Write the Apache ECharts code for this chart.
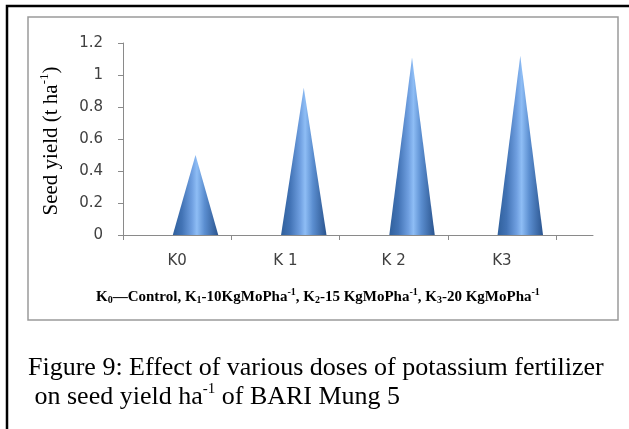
<!DOCTYPE html>
<html>
<head>
<meta charset="utf-8">
<script src="https://cdn.jsdelivr.net/npm/echarts@6/dist/echarts.min.js"></script>
<style>
html,body{margin:0;padding:0;background:#fff;}
#chart{width:629px;height:429px;}
</style>
</head>
<body>
<div id="chart"></div>
<script>
// ---- data ----
const categories = ['K0', 'K 1', 'K 2', 'K3'];
const seedYield = [0.5, 0.92, 1.11, 1.12];
const yMin = 0, yMax = 1.2, yStep = 0.2;
const yAxisTitle = ['Seed yield (t ha', '-1', ')'];
const noteParts = [
  ['K', '0', '—Control, '],
  ['K', '1', '-10KgMoPha', '-1', ', '],
  ['K', '2', '-15 KgMoPha', '-1', ', '],
  ['K', '3', '-20 KgMoPha', '-1', '']
];
const captionLine1 = 'Figure 9: Effect of various doses of potassium fertilizer';
const captionLine2 = [' on seed yield ha', '-1', ' of BARI Mung 5'];

// ---- chart ----
const chart = echarts.init(document.getElementById('chart'));
const axisGray = '#8a8a8a';
const labelColor = '#404040';

const coneFill = new echarts.graphic.LinearGradient(0, 0, 1, 0, [
  { offset: 0, color: '#30609c' },
  { offset: 0.2, color: '#4273b5' },
  { offset: 0.42, color: '#6f9fe0' },
  { offset: 0.53, color: '#8ebdf5' },
  { offset: 0.7, color: '#5b8ed0' },
  { offset: 1, color: '#2a548e' }
]);

function renderCone(params, api) {
  const idx = api.value(0);
  const base = api.coord([idx, 0]);
  const tip = api.coord([idx, api.value(1)]);
  const band = api.size([1, 0])[0];
  const cx = base[0] + band * 0.17;
  const hw = band * 0.21;
  return {
    type: 'polygon',
    shape: { points: [[cx - hw, base[1]], [cx, tip[1]], [cx + hw, base[1]]] },
    style: { fill: coneFill }
  };
}

// note rich text
let noteText = '';
noteParts.forEach(p => {
  noteText += '{n|' + p[0] + '}{sub|' + p[1] + '}{n|' + p[2] + '}';
  if (p.length > 4) noteText += '{sup|' + p[3] + '}{n|' + p[4] + '}';
});

const option = {
  backgroundColor: '#ffffff',
  animation: false,
  grid: [
    { left: 123, right: 73, top: 43, bottom: 194 },
    { left: 123, right: 36, top: 43, bottom: 194 }
  ],
  xAxis: [
    {
      type: 'category', gridIndex: 0, data: categories, boundaryGap: true,
      axisLine: { show: true, lineStyle: { color: axisGray, width: 1 } },
      axisTick: { show: true, length: 5, lineStyle: { color: axisGray } },
      axisLabel: { color: labelColor, fontFamily: 'DejaVu Sans', fontSize: 15, margin: 19 },
      splitLine: { show: false }
    },
    {
      type: 'value', gridIndex: 1, min: 0, max: 1,
      axisLine: { show: true, onZero: false, lineStyle: { color: axisGray, width: 1 } },
      axisTick: { show: false }, axisLabel: { show: false }, splitLine: { show: false }
    }
  ],
  yAxis: [
    {
      type: 'value', gridIndex: 0, min: yMin, max: yMax, interval: yStep,
      axisLine: { show: true, lineStyle: { color: axisGray, width: 1 } },
      axisTick: { show: true, length: 5, lineStyle: { color: axisGray } },
      axisLabel: { color: labelColor, fontFamily: 'DejaVu Sans', fontSize: 15, margin: 20 },
      splitLine: { show: false }
    },
    { type: 'value', gridIndex: 1, min: 0, max: 1, show: false }
  ],
  series: [
    {
      type: 'custom',
      xAxisIndex: 0, yAxisIndex: 0,
      renderItem: renderCone,
      encode: { x: 0, y: 1 },
      data: seedYield.map((v, i) => [i, v]),
      z: 3
    }
  ],
  graphic: [
    {
      type: 'rect', z: -1, silent: true,
      shape: { x: 7, y: 6, width: 660, height: 500 },
      style: { fill: 'none', stroke: '#000', lineWidth: 2.5 }
    },
    {
      type: 'rect', z: -1, silent: true,
      shape: { x: 28, y: 17, width: 590, height: 303 },
      style: { fill: 'none', stroke: '#9a9a9a', lineWidth: 1.5 }
    },
    {
      type: 'text', x: 50, y: 141, rotation: Math.PI / 2,
      style: {
        text: '{m|' + yAxisTitle[0] + '}{s|' + yAxisTitle[1] + '}{m|' + yAxisTitle[2] + '}',
        align: 'center', verticalAlign: 'middle',
        rich: {
          m: { fontFamily: 'Liberation Serif', fontSize: 21, color: '#000', lineHeight: 24, verticalAlign: 'bottom' },
          s: { fontFamily: 'Liberation Serif', fontSize: 13, color: '#000', lineHeight: 24, verticalAlign: 'top' }
        }
      }
    },
    {
      type: 'text', x: 96, y: 296,
      style: {
        text: noteText, align: 'left', verticalAlign: 'middle',
        rich: {
          n: { fontFamily: 'Liberation Serif', fontWeight: 'bold', fontSize: 15, color: '#000', lineHeight: 18, verticalAlign: 'bottom' },
          sub: { fontFamily: 'Liberation Serif', fontWeight: 'bold', fontSize: 10, color: '#000', lineHeight: 18, verticalAlign: 'bottom' },
          sup: { fontFamily: 'Liberation Serif', fontWeight: 'bold', fontSize: 10, color: '#000', lineHeight: 18, verticalAlign: 'top' }
        }
      }
    },
    {
      type: 'text', x: 28, y: 368,
      style: {
        text: captionLine1, align: 'left', verticalAlign: 'middle',
        fontFamily: 'Liberation Serif', fontSize: 26, fill: '#000'
      }
    },
    {
      type: 'text', x: 28, y: 396,
      style: {
        text: '{c|' + captionLine2[0] + '}{cs|' + captionLine2[1] + '}{c|' + captionLine2[2] + '}',
        align: 'left', verticalAlign: 'middle',
        rich: {
          c: { fontFamily: 'Liberation Serif', fontSize: 26, color: '#000', lineHeight: 28, verticalAlign: 'bottom' },
          cs: { fontFamily: 'Liberation Serif', fontSize: 15, color: '#000', lineHeight: 28, verticalAlign: 'top' }
        }
      }
    }
  ]
};
chart.setOption(option);
</script>
</body>
</html>
